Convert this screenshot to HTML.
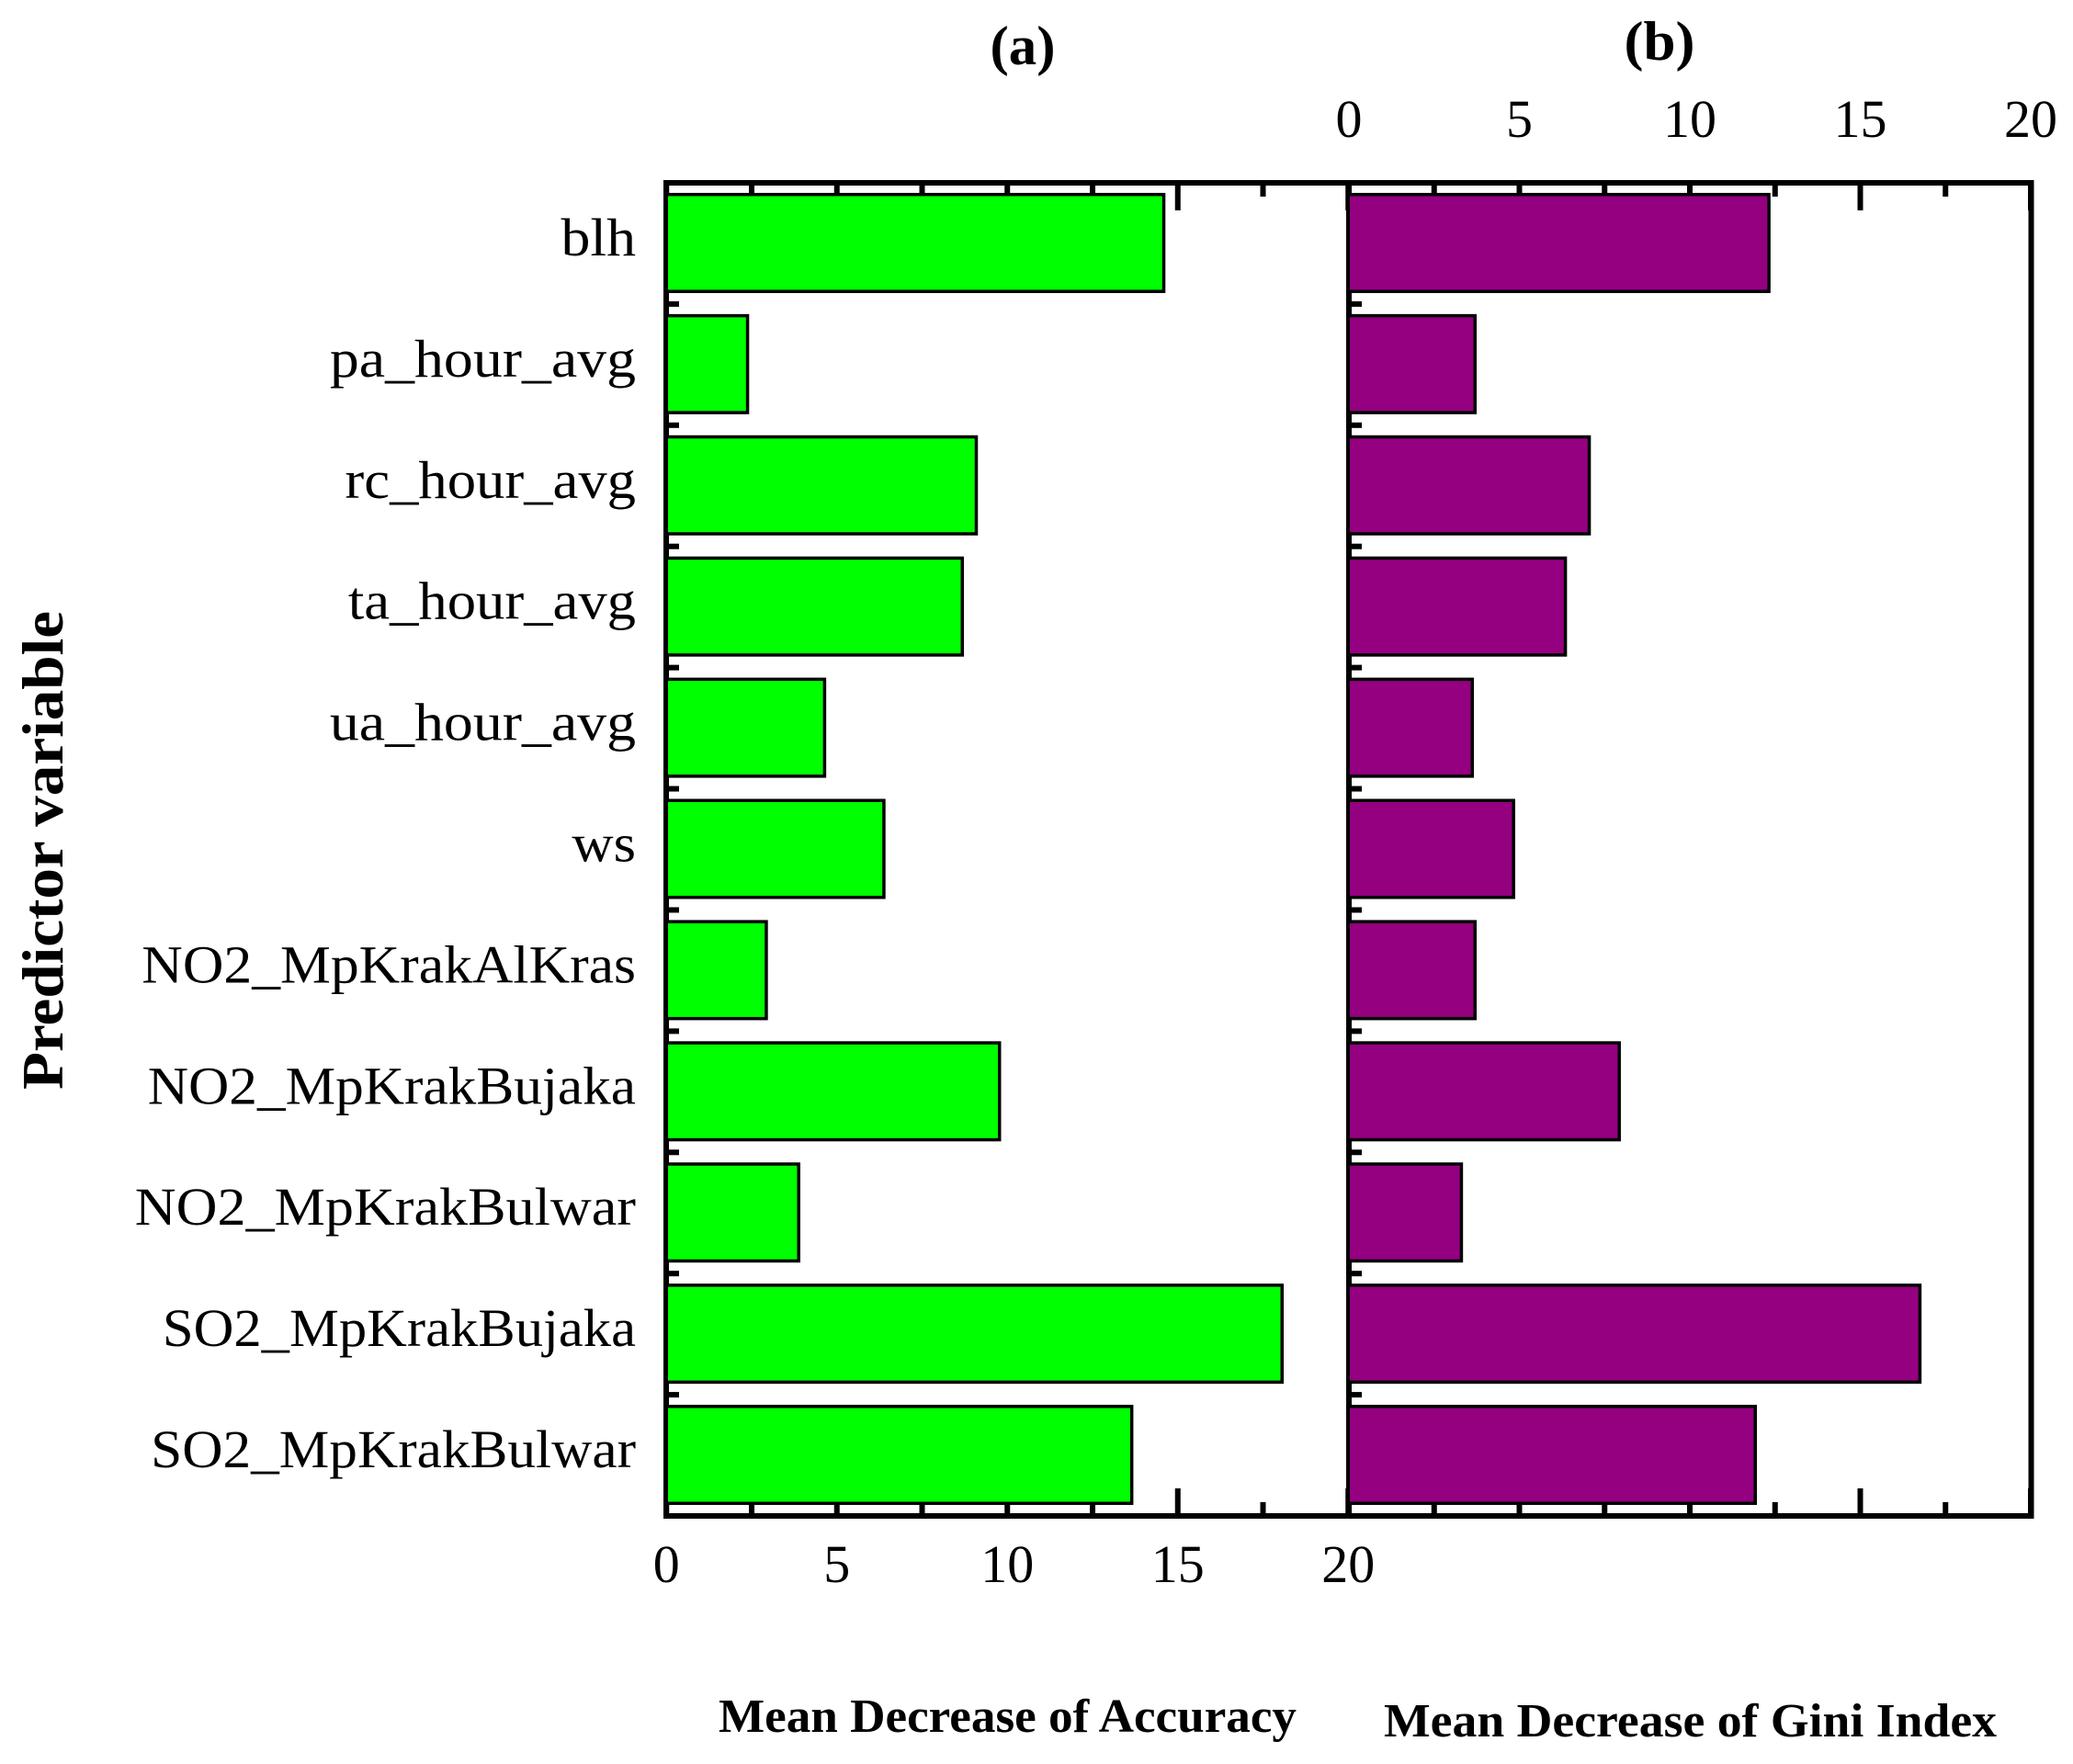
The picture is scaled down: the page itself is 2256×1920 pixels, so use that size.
<!DOCTYPE html>
<html lang="en">
<head>
<meta charset="utf-8">
<title>Predictor variable importance</title>
<style>
html,body{margin:0;padding:0;background:#fff;}
svg{display:block;}
text{font-family:"Liberation Serif","DejaVu Serif",serif;fill:#000;}
.cat{font-size:58px;}
.tick{font-size:58px;}
.ttl{font-weight:bold;}
</style>
</head>
<body>
<svg id="chart" xmlns="http://www.w3.org/2000/svg" width="2256" height="1920" viewBox="0 0 2256 1920">
  <rect x="0" y="0" width="2256" height="1920" fill="#fff"/>
  <g id="ticks"></g>
  <rect x="725" y="199" width="1485.5" height="1451" fill="none" stroke="#000" stroke-width="6"/>
  <line x1="1468" y1="199" x2="1468" y2="1650" stroke="#000" stroke-width="6"/>
  <g id="bars"></g>
  <g id="labels"></g>
  <text class="ttl" x="1113" y="70" font-size="60" text-anchor="middle" textLength="71" lengthAdjust="spacingAndGlyphs">(a)</text>
  <text class="ttl" x="1806" y="65" font-size="60" text-anchor="middle" textLength="77" lengthAdjust="spacingAndGlyphs">(b)</text>
  <text class="ttl" x="782" y="1885" font-size="52" textLength="629" lengthAdjust="spacingAndGlyphs">Mean Decrease of Accuracy</text>
  <text class="ttl" x="1506" y="1890" font-size="52" textLength="667" lengthAdjust="spacingAndGlyphs">Mean Decrease of Gini Index</text>
  <text class="ttl" transform="translate(68,1186) rotate(-90)" x="0" y="0" font-size="64" textLength="521" lengthAdjust="spacingAndGlyphs">Predictor variable</text>
</svg>
<script>
const categories = ["blh","pa_hour_avg","rc_hour_avg","ta_hour_avg","ua_hour_avg","ws","NO2_MpKrakAlKras","NO2_MpKrakBujaka","NO2_MpKrakBulwar","SO2_MpKrakBujaka","SO2_MpKrakBulwar"];
const accuracyValues = [14.59,2.38,9.09,8.68,4.64,6.38,2.93,9.77,3.88,18.06,13.65];
const giniValues = [12.32,3.7,7.05,6.35,3.62,4.83,3.7,7.93,3.3,16.75,11.92];
const tickLabels = ["0","5","10","15","20"];
const tickValues = [0,5,10,15,20];
const minorTickValues = [2.5,7.5,12.5,17.5];

const NS = "http://www.w3.org/2000/svg";
const ticksG = document.getElementById("ticks");
const barsG = document.getElementById("bars");
const labelsG = document.getElementById("labels");

const panelA = 725.25;
const panelB = 1468;
const unit = 37.1;
const plotTop = 199;
const plotBottom = 1650;
const band = (plotBottom - plotTop) / categories.length;

function xA(v){ return panelA + v * unit; }
function xB(v){ return panelB + v * unit; }
function yBand(i){ return plotTop + i * band; }
function labelStretch(name){
  if (name === "SO2_MpKrakBujaka") return 1.045;
  if (name === "SO2_MpKrakBulwar" || name === "NO2_MpKrakBujaka") return 1.057;
  if (name === "NO2_MpKrakAlKras") return 1.063;
  if (name === "NO2_MpKrakBulwar") return 1.071;
  if (name === "pa_hour_avg" || name === "ua_hour_avg" || name === "blh") return 1.1;
  return 1.08;
}
function make(tag, attrs, parent){
  const el = document.createElementNS(NS, tag);
  for (const k in attrs) el.setAttribute(k, attrs[k]);
  parent.appendChild(el);
  return el;
}

function drawXTicks(xFn){
  tickValues.forEach(function(v){
    const top = make("line", {x1:xFn(v), x2:xFn(v), y1:plotTop, y2:plotTop+30, stroke:"#000", "stroke-width":6}, ticksG);
    
    
    const bot = make("line", {x1:xFn(v), x2:xFn(v), y1:plotBottom-30, y2:plotBottom, stroke:"#000", "stroke-width":6}, ticksG);
    
    
  });
  minorTickValues.forEach(function(v){
    const top = make("line", {x1:xFn(v), x2:xFn(v), y1:plotTop, y2:plotTop+15, stroke:"#000", "stroke-width":6}, ticksG);
    
    
    const bot = make("line", {x1:xFn(v), x2:xFn(v), y1:plotBottom-15, y2:plotBottom, stroke:"#000", "stroke-width":6}, ticksG);
    
    
  });
}
drawXTicks(xA);
drawXTicks(xB);

for (let i = 1; i < categories.length; i++){
  const y = yBand(i);
  const la = make("line", {x1:725, x2:739, y1:y, y2:y, stroke:"#000", "stroke-width":6}, ticksG);
  
  
  const lb = make("line", {x1:1468, x2:1482, y1:y, y2:y, stroke:"#000", "stroke-width":6}, ticksG);
  
  
}

function drawBars(values, xFn, x0, fill, prefix){
  values.forEach(function(v, i){
    const h = 105.5;
    const y = yBand(i) + (band - h) / 2 - 0.5;
    const r = make("rect", {x:x0, y:y, width:xFn(v)-x0, height:h, fill:fill, stroke:"#000", "stroke-width":3.5}, barsG);
    
    
  });
}
drawBars(accuracyValues, xA, 725.25, "#00ff00", "accuracy");
drawBars(giniValues, xB, 1467.25, "#940080", "gini");

categories.forEach(function(c, i){
  const t = make("text", {x:692, y:yBand(i)+band/2+13, "text-anchor":"end", "class":"cat"}, labelsG);
  
  
  t.textContent = c;
  t.setAttribute("textLength", t.getComputedTextLength() * labelStretch(c));
  t.setAttribute("lengthAdjust", "spacingAndGlyphs");
});

tickLabels.forEach(function(s, i){
  const a = make("text", {x:xA(tickValues[i]), y:1722, "text-anchor":"middle", "class":"tick"}, labelsG);
  
  
  a.textContent = s;
  const b = make("text", {x:xB(tickValues[i]), y:149, "text-anchor":"middle", "class":"tick"}, labelsG);
  
  
  b.textContent = s;
});
</script>
</body>
</html>
